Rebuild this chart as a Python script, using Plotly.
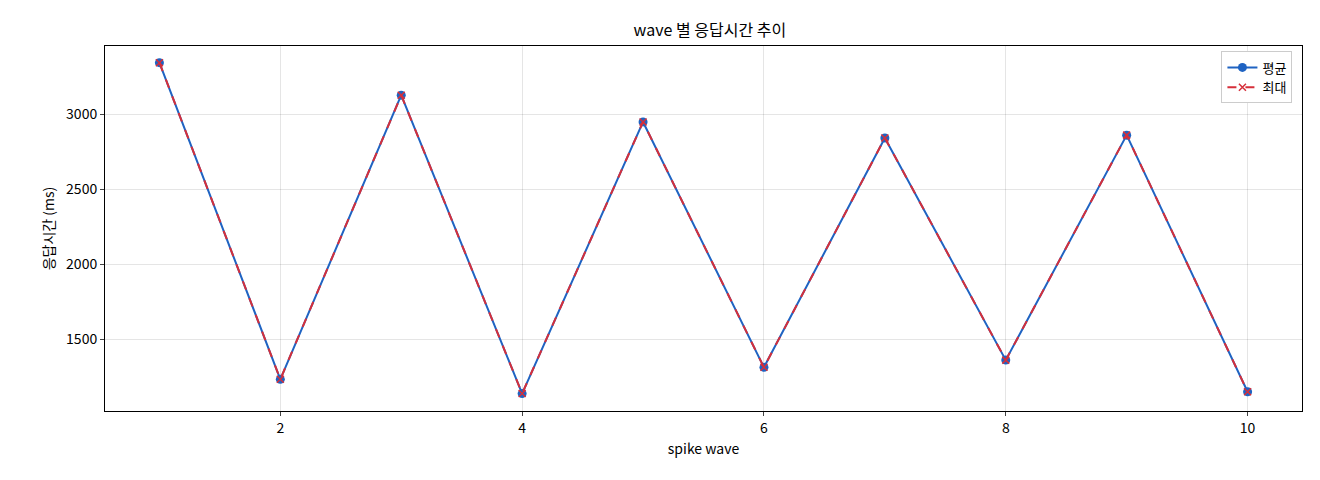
import plotly.graph_objects as go

waves = [1, 2, 3, 4, 5, 6, 7, 8, 9, 10]
avg_ms = [3345, 1235, 3128, 1140, 2950, 1315, 2843, 1363, 2862, 1152]
max_ms = [3345, 1235, 3128, 1140, 2950, 1315, 2843, 1363, 2862, 1152]

fig = go.Figure()
fig.add_trace(go.Scatter(
    x=waves, y=avg_ms, name="평균", mode="lines+markers",
    line=dict(color="#1f63c2", width=2),
    marker=dict(symbol="circle", size=9, color="#1f63c2"),
))
fig.add_trace(go.Scatter(
    x=waves, y=max_ms, name="최대", mode="lines+markers",
    line=dict(color="#d62f3a", width=2, dash="dash"),
    marker=dict(symbol="x-thin", size=7, color="#d62f3a",
                line=dict(color="#d62f3a", width=1.5)),
))

axis_style = dict(
    showgrid=True, gridcolor="rgba(0,0,0,0.1)", showline=True, linecolor="black",
    mirror=True, ticks="outside", ticklen=4, zeroline=False,
    tickfont=dict(size=14), title_font=dict(size=14),
)
fig.update_layout(
    width=1312, height=472,
    margin=dict(l=97, r=18, t=38, b=69),
    plot_bgcolor="white", paper_bgcolor="white",
    font=dict(family="Noto Sans CJK KR", size=13, color="black"),
    title=dict(text="wave 별 응답시간 추이", x=0.535, y=0.965, xanchor="center", font=dict(size=16)),
    showlegend=True,
    legend=dict(x=0.992, y=0.985, xanchor="right", yanchor="top",
                bordercolor="#cccccc", borderwidth=1, bgcolor="white"),
)
fig.update_xaxes(title_text="spike wave", title_standoff=8, range=[0.55, 10.45], tickvals=[2, 4, 6, 8, 10], **axis_style)
fig.update_yaxes(title_text="응답시간 (ms)", title_standoff=8, range=[1024, 3456], tickvals=[1500, 2000, 2500, 3000], **axis_style)

fig.write_html("out.html")
